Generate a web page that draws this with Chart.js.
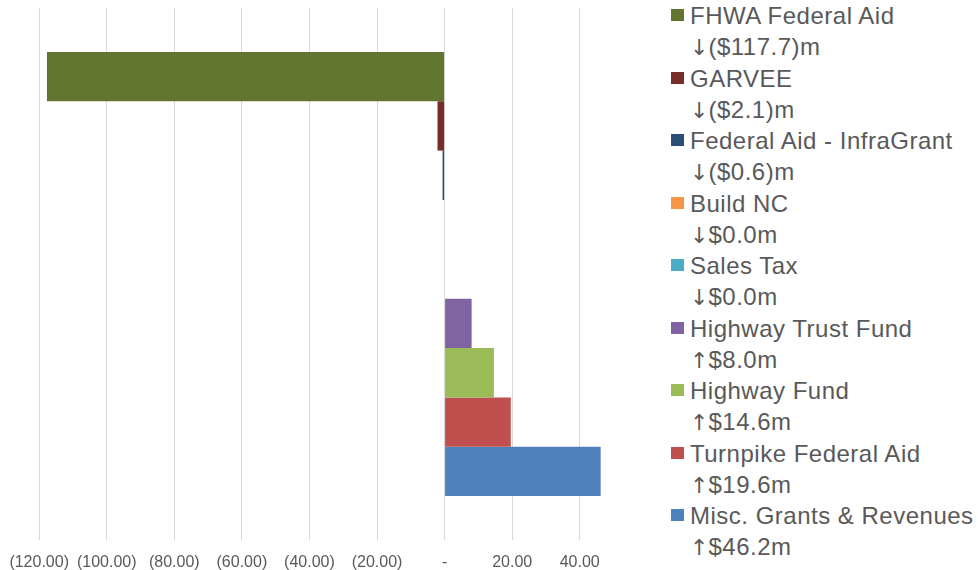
<!DOCTYPE html>
<html>
<head>
<meta charset="utf-8">
<script src="https://cdn.jsdelivr.net/npm/chart.js@4"></script>
<style>
  body { margin: 0; background: #fff; width: 978px; height: 570px; overflow: hidden; position: relative; }
  #wrap { position: absolute; left: 0; top: 0; width: 650px; height: 570px; }
  #legend { position: absolute; left: 671px; top: 0; font-family: "Liberation Sans", Arial, sans-serif; font-size: 24px; letter-spacing: 0.5px; color: #595959; }
  .item { position: relative; padding-left: 19px; white-space: nowrap; }
  .item > div { height: 31.25px; line-height: 31.25px; overflow: visible; }
  .sw { position: absolute; left: 0; top: 9px; width: 13px; height: 12px; }
  .arr { font-family: "DejaVu Sans", sans-serif; font-size: 22px; letter-spacing: 0; line-height: 0; }
</style>
</head>
<body>
<div id="wrap"><canvas id="barChart"></canvas></div>
<div id="legend"></div>
<script>
const ctx = document.getElementById('barChart').getContext('2d');

// Data
const seriesNames = ['FHWA Federal Aid', 'GARVEE', 'Federal Aid - InfraGrant', 'Build NC', 'Sales Tax',
    'Highway Trust Fund', 'Highway Fund', 'Turnpike Federal Aid', 'Misc. Grants & Revenues'];
const seriesValues = [-117.7, -2.1, -0.6, 0.0, 0.0, 8.0, 14.6, 19.6, 46.2];
const seriesColors = ['#617430', '#772c2a', '#2c4d75', '#f79646', '#4bacc6', '#8064a2', '#9bbb59', '#c0504d', '#4f81bd'];
const tickValues = [-120, -100, -80, -60, -40, -20, 0, 20, 40];

const datasets = seriesNames.map((name, i) => ({
    label: name,
    data: [seriesValues[i]],
    backgroundColor: seriesColors[i],
    borderWidth: 0,
    barPercentage: 1,
    categoryPercentage: 0.835
}));

function fmtTick(v) {
    if (v === 0) return '-';
    const s = Math.abs(v).toFixed(2);
    return v < 0 ? '(' + s + ')' : s;
}

const chart = new Chart(ctx, {
    type: 'bar',
    data: { labels: [''], datasets: datasets },
    options: {
        indexAxis: 'y',
        responsive: true,
        maintainAspectRatio: false,
        animation: false,
        layout: { padding: { top: 8, bottom: 0, left: 0, right: 0 } },
        plugins: { legend: { display: false }, tooltip: { enabled: false } },
        scales: {
            y: { display: false },
            x: {
                min: -131.6,
                max: 60.8,
                afterBuildTicks: function (scale) {
                    scale.ticks = tickValues.map(v => ({ value: v }));
                },
                afterFit: function (scale) {
                    scale.paddingLeft = 0;
                    scale.paddingRight = 0;
                    scale.height = 30;
                },
                grid: { color: '#d9d9d9', lineWidth: 1, drawTicks: false },
                border: { display: false },
                ticks: {
                    padding: 13,
                    autoSkip: false,
                    maxRotation: 0,
                    color: '#595959',
                    font: { family: '"Liberation Sans", Arial, sans-serif', size: 16 },
                    callback: function (value) { return fmtTick(value); }
                }
            }
        }
    }
});

// Legend
const legendEl = document.getElementById('legend');
chart.data.datasets.forEach((ds, i) => {
    const v = seriesValues[i];
    const amt = '$' + Math.abs(v).toFixed(1);
    const item = document.createElement('div');
    item.className = 'item';
    const sw = document.createElement('span');
    sw.className = 'sw';
    sw.style.background = ds.backgroundColor;
    item.appendChild(sw);
    const l1 = document.createElement('div');
    l1.textContent = ds.label;
    const l2 = document.createElement('div');
    const arr = document.createElement('span');
    arr.className = 'arr';
    arr.textContent = v > 0 ? '\u2191' : '\u2193';
    l2.appendChild(arr);
    l2.appendChild(document.createTextNode((v < 0 ? '(' + amt + ')' : amt) + 'm'));
    item.appendChild(l1);
    item.appendChild(l2);
    legendEl.appendChild(item);
});
</script>
</body>
</html>
